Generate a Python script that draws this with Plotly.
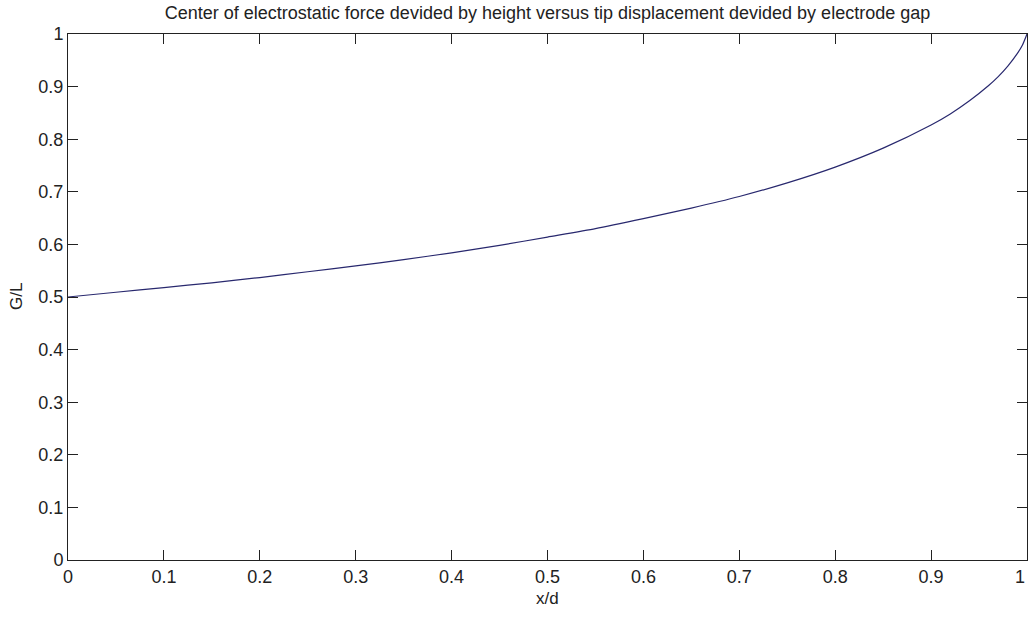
import plotly.graph_objects as go

# x/d (tip displacement divided by electrode gap)
x_over_d = [0.0, 0.05, 0.10, 0.15, 0.20, 0.25, 0.30, 0.35, 0.40, 0.45, 0.50,
            0.55, 0.60, 0.65, 0.70, 0.75, 0.80, 0.85, 0.90, 0.92, 0.94, 0.96,
            0.97, 0.98, 0.99, 0.995, 1.0]
# G/L (center of electrostatic force divided by height)
g_over_l = [0.500, 0.509, 0.518, 0.527, 0.537, 0.548, 0.559, 0.571, 0.584, 0.598, 0.614,
            0.630, 0.649, 0.669, 0.691, 0.717, 0.747, 0.783, 0.827, 0.848, 0.873, 0.902,
            0.919, 0.939, 0.963, 0.978, 1.0]

tick_vals = [0, 0.1, 0.2, 0.3, 0.4, 0.5, 0.6, 0.7, 0.8, 0.9, 1]
tick_text = ["0", "0.1", "0.2", "0.3", "0.4", "0.5", "0.6", "0.7", "0.8", "0.9", "1"]

title_text = "Center of electrostatic force devided by height versus tip displacement devided by electrode gap"
x_label = "x/d"
y_label = "G/L"

font_family = "Liberation Sans, Arial, sans-serif"
ink = "#222222"

W, H = 1028, 617

fig = go.Figure()
fig.add_trace(go.Scatter(x=x_over_d, y=g_over_l, mode="lines",
                         line=dict(color="#28286e", width=1.2, shape="spline", smoothing=0.6),
                         showlegend=False, hoverinfo="skip"))

axis_common = dict(range=[0, 1], tickmode="array", tickvals=tick_vals, ticktext=tick_text,
                   showgrid=False, zeroline=False, automargin=False,
                   showline=True, linecolor=ink, linewidth=1, mirror="ticks",
                   ticks="inside", ticklen=10, tickcolor=ink, tickwidth=1,
                   tickfont=dict(family=font_family, size=18, color=ink))

annotations = [
    dict(text=x_label, xref="paper", yref="paper", x=0.5, y=-38 / 526, xanchor="center",
         yanchor="middle", showarrow=False, font=dict(family=font_family, size=17, color=ink)),
    dict(text=y_label, xref="paper", yref="paper", x=-52 / 959, y=0.5, xanchor="center",
         yanchor="middle", textangle=-90, showarrow=False,
         font=dict(family=font_family, size=17, color=ink)),
    # last x tick label sits on the window edge; plotly drops it, so draw it explicitly
    dict(text=tick_text[-1], x=tick_vals[-1], xref="x", yref="paper", y=-17 / 526,
         xanchor="right", yanchor="middle", showarrow=False,
         font=dict(family=font_family, size=18, color=ink)),
]

fig.update_layout(
    width=W, height=H,
    margin=dict(l=68, r=1, t=34, b=57, autoexpand=False),
    paper_bgcolor="white", plot_bgcolor="white",
    title=dict(text=title_text, x=547.5 / W, xanchor="center", y=1 - 13 / H, yanchor="middle",
               yref="container", font=dict(family=font_family, size=18, color=ink)),
    xaxis=dict(**axis_common, ticklabelstandoff=0),
    yaxis=dict(**axis_common),
    annotations=annotations,
)

# remove the default page margin so the figure sits at the window's top-left corner
fig.write_html("out.html", config={"displayModeBar": False},
               post_script="document.body.style.margin='0';document.body.style.overflow='hidden';")
